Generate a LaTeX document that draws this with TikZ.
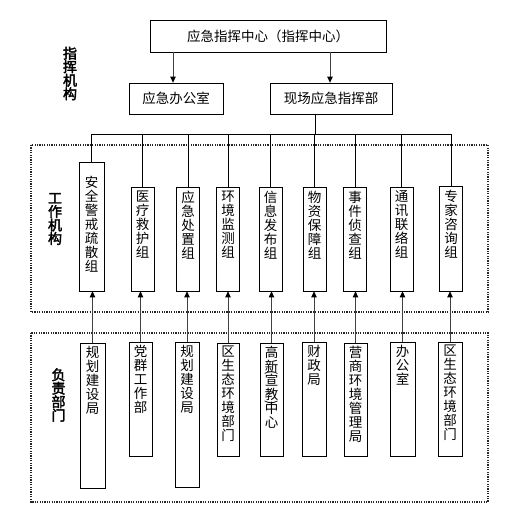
\documentclass[tikz,border=0pt]{standalone}
\usepackage{fontspec}
\usepackage{graphicx}
\newfontfamily\cjk{Noto Sans CJK SC}
\newfontfamily\cjkb[FakeBold=2.5]{Noto Sans CJK SC}
\usetikzlibrary{arrows.meta}
\newcommand\tightls{\lineskiplimit=-50pt\relax\lineskip=0pt\relax\parskip=0pt\relax\parindent=0pt\relax}
\newcommand\vtx[4]{\parbox[c][#2pt][t]{#1pt}{\tightls\centering\vspace*{#3pt}#4\par\vss}}
\newcommand\ovp[2]{\leavevmode\rlap{\makebox[13.5pt]{\smash{\raisebox{#2}{\rotatebox[origin=c]{-90}{\fontsize{13}{13}\selectfont #1}}}}}}
\tikzset{
  hbox/.style={draw, line width=0.7pt, inner sep=0pt, font=\cjk\fontsize{13.5}{14}\selectfont},
  vbox/.style={draw, line width=0.7pt, inner sep=0pt, font=\cjk\fontsize{13.5}{14}\selectfont},
  lab/.style={inner sep=0pt, align=center, font={\cjkb\fontsize{14}{13.5}\selectfont\tightls}},
  arr/.style={draw=black!75, line width=0.8pt, -{Triangle[width=5.5pt,length=6pt,color=black]}},
  bus/.style={draw=black, line width=0.8pt},
  dotbox/.style={draw=black!85, line width=1.2pt, dash pattern=on 1.2pt off 1.2pt}
}
\begin{document}
\begin{tikzpicture}[x=1pt,y=-1pt]
\useasboundingbox (0,0) rectangle (513,519);
% dotted frames
\draw[dotbox] (31,145) rectangle (488,312);
\draw[dotbox] (31,333) rectangle (488,502);
% labels
\node[lab] (l1) at (70,73.5) {指\\挥\\机\\构};
\node[lab] (l2) at (55,219) {工\\作\\机\\构};
\node[lab] (l3) at (58.5,395) {负\\责\\部\\门};
% command nodes
\node[hbox, minimum width=236pt, minimum height=32pt] (top) at (268,36) {应急指挥中心（指挥中心）};
\node[hbox, minimum width=94pt, minimum height=31pt] (off) at (176,98.5) {应急办公室};
\node[hbox, minimum width=122pt, minimum height=31pt] (xc) at (331,98.5) {现场应急指挥部};
\draw[arr] (top.south -| 173,0) -- (off.north -| 173,0);
\draw[arr] (top.south -| 330,0) -- (xc.north -| 330,0);
% work groups
\node[vbox] (w1) at (91.5,226.5) {\vtx{25}{129}{14}{安\\全\\警\\戒\\疏\\散\\组}};
\node[vbox] (w2) at (142.5,239) {\vtx{23}{104}{4}{医\\疗\\救\\护\\组}};
\node[vbox] (w3) at (188,239) {\vtx{23}{104}{4}{应\\急\\处\\置\\组}};
\node[vbox] (w4) at (228,239) {\vtx{23}{104}{4}{环\\境\\监\\测\\组}};
\node[vbox] (w5) at (270.5,239) {\vtx{23}{104}{4}{信\\息\\发\\布\\组}};
\node[vbox] (w6) at (314.5,239) {\vtx{23}{104}{4}{物\\资\\保\\障\\组}};
\node[vbox] (w7) at (355,239) {\vtx{23}{104}{4}{事\\件\\侦\\查\\组}};
\node[vbox] (w8) at (401.5,239) {\vtx{23}{104}{4}{通\\讯\\联\\络\\组}};
\node[vbox] (w9) at (451,238.5) {\vtx{23}{105}{4}{专\\家\\咨\\询\\组}};
% bus
\coordinate (bt) at (315,134);
\draw[bus] (xc.south -| bt) -- (bt);
\foreach \i in {1,...,9} {
  \coordinate (b\i) at (w\i.north |- bt);
  \draw[bus] (b\i) -- (w\i.north);
}
\draw[bus] (b1) -- (b9);
% departments
\node[vbox] (d1) at (92.5,415.5) {\vtx{25}{145}{3}{规\\划\\建\\设\\局}};
\node[vbox] (d2) at (140.5,399) {\vtx{23}{114}{3}{党\\群\\工\\作\\部}};
\node[vbox] (d3) at (187,414.5) {\vtx{24}{145}{3}{规\\划\\建\\设\\局}};
\node[vbox] (d4) at (228,399.5) {\vtx{22}{113}{3}{区\\生\\态\\环\\境\\部\\门}};
\node[vbox] (d5) at (271.5,399.5) {\vtx{23}{113}{3}{高\\新\\\ovp{(}{9pt}宣\\\ovp{)}{-7pt}教\\中\\心}};
\node[vbox] (d6) at (314,399) {\vtx{24}{114}{3}{财\\政\\局}};
\node[vbox] (d7) at (355.5,399.5) {\vtx{23}{113}{3}{营\\商\\环\\境\\管\\理\\局}};
\node[vbox] (d8) at (402.5,399) {\vtx{25}{114}{3}{办\\公\\室}};
\node[vbox] (d9) at (450,399) {\vtx{24}{114}{3}{区\\生\\态\\环\\境\\部\\门}};
\foreach \i in {1,...,9} {
  \draw[arr] (d\i.north) -- (d\i.north |- w\i.south);
}
\end{tikzpicture}
\end{document}
